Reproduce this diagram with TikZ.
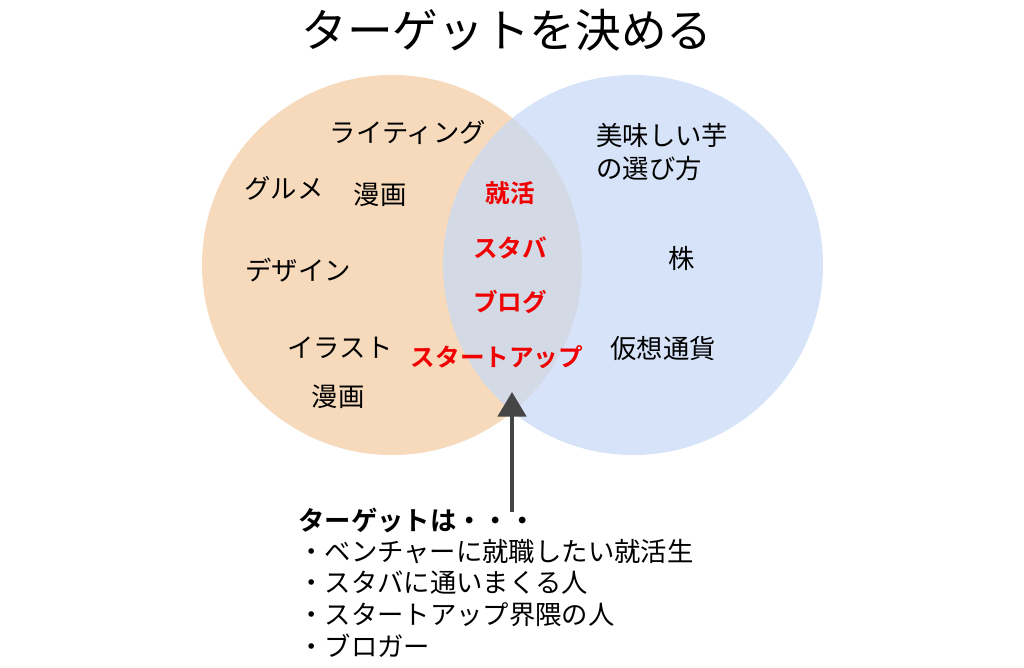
\documentclass[tikz,border=0pt]{standalone}
\usepackage{fontspec}
\newfontfamily\jp[BoldFont={Noto Sans CJK JP Bold}]{Noto Sans CJK JP}
\usetikzlibrary{arrows.meta, positioning}
\definecolor{peach}{HTML}{F5D6B4}
\definecolor{sky}{HTML}{C9D9F5}
\definecolor{hot}{HTML}{F00000}
\definecolor{pointer}{HTML}{454545}

\begin{document}
\begin{tikzpicture}[x=0.02cm,y=-0.02cm,font=\jp]
    \tikzstyle{word}=[font=\jp\fontsize{15pt}{18pt}\selectfont,inner sep=0pt]
    \tikzstyle{hotword}=[word,text=hot,font=\jp\bfseries\fontsize{14pt}{17pt}\selectfont]
    \tikzstyle{note}=[word,anchor=west,font=\jp\fontsize{15pt}{18pt}\selectfont]

    \useasboundingbox (0,0) rectangle (1024,667);
    \fill[peach, opacity=0.9] (392,265) circle (190);
    \fill[sky, opacity=0.75] (633,265) circle (190);

    \node[font=\jp\fontsize{26pt}{30pt}\selectfont] (title) at (507,30) {ターゲットを決める};

    \node[word] (w1) at (408,132) {ライティング};
    \node[word] (w2) at (284,188) {グルメ};
    \node[word] (w3) at (380,195) {漫画};
    \node[word] (w4) at (298,270) {デザイン};
    \node[word] (w5) at (340,348) {イラスト};
    \node[word] (w6) at (338,397) {漫画};

    \node[hotword] (h1) at (510,193) {就活};
    \node[hotword] (h2) at (510,248) {スタバ};
    \node[hotword] (h3) at (510,302) {ブログ};
    \node[hotword] (h4) at (497,357) {スタートアップ};

    \node[note] (r1) at (596,135) {美味しい芋};
    \node[note] (r2) at (596,168) {の選び方};
    \node[word] (r3) at (682,258) {株};
    \node[word] (r4) at (663,348) {仮想通貨};

    \node[note,font=\jp\bfseries\fontsize{15pt}{18pt}\selectfont] (t0) at (298,520) {ターゲットは・・・};
    \node[note] (t1) at (298,552) {・ベンチャーに就職したい就活生};
    \node[note] (t2) at (298,583) {・スタバに通いまくる人};
    \node[note] (t3) at (298,615) {・スタートアップ界隈の人};
    \node[note] (t4) at (298,646) {・ブロガー};

    \coordinate (tail) at (512,512);
    \coordinate (tip) at (512,392);
    \draw[pointer, line width=2.5pt, -{Triangle[length=14pt,width=16pt]}] (tail) -- (tip);
\end{tikzpicture}
\end{document}
